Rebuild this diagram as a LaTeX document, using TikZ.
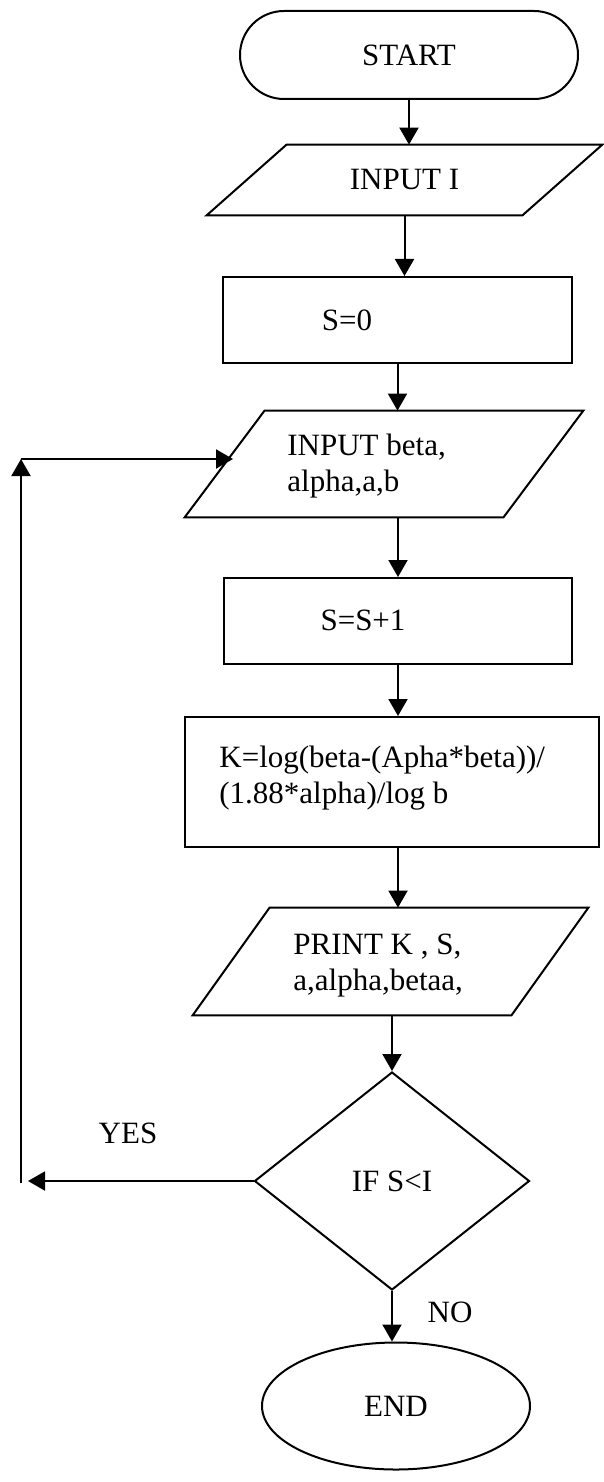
\documentclass[tikz,border=0pt]{standalone}
\usepackage{fontspec}
\setmainfont{Liberation Serif}
\usetikzlibrary{shapes.geometric,arrows.meta,calc}
\begin{document}
\begin{tikzpicture}[x=0.5pt,y=-0.5pt,
  every node/.style={font=\fontsize{15.5}{18}\selectfont},
  line/.style={line width=1pt},
  flow/.style={line width=1pt,-{Triangle[length=8.5pt,width=9.5pt]}},
  box/.style={draw,line width=1pt,inner sep=0pt},
  holder/.style={inner sep=0pt},
  txt/.style={inner sep=0pt,align=left,anchor=west}
]
\fill[white] (0,0) rectangle (604,1482);
\useasboundingbox (0,0) rectangle (604,1482);

% terminal
\node[box,rounded corners=22pt,minimum width=169pt,minimum height=44pt] (start) at (409,55) {START};

% INPUT I
\node[holder,minimum width=157.5pt,minimum height=35pt] (in1) at (404.5,180) {INPUT I};
\draw[line] ($(in1.north west)+(40,0)$) -- ($(in1.north east)+(40,0)$)
  -- ($(in1.south east)+(-40,0)$) -- ($(in1.south west)+(-40,0)$) -- cycle;

% S=0
\node[box,minimum width=174.5pt,minimum height=43pt] (s0) at (397.5,320) {};
\node (s0t) at (347,320) {S=0};

% INPUT beta, alpha, a, b
\node[holder,minimum width=159pt,minimum height=53pt] (inb) at (384,464) {};
\draw[line] ($(inb.north west)+(40,0)$) -- ($(inb.north east)+(40,0)$)
  -- ($(inb.south east)+(-40,0)$) -- ($(inb.south west)+(-40,0)$) -- cycle;
\node[txt] (inbt) at (287,466) {INPUT beta,\\alpha,a,b};

% S=S+1
\node[box,minimum width=174pt,minimum height=43pt] (sps1) at (398,621) {};
\node (sps1t) at (363,620) {S=S+1};

% K formula
\node[box,minimum width=207pt,minimum height=65pt] (k) at (392,782) {};
\node[txt] (kt) at (219,778) {K=log(beta-(Apha*beta))/\\(1.88*alpha)/log b};

% PRINT
\node[holder,minimum width=159pt,minimum height=53.5pt] (pr) at (390.5,961.5) {};
\draw[line] ($(pr.north west)+(38.5,0)$) -- ($(pr.north east)+(38.5,0)$)
  -- ($(pr.south east)+(-38.5,0)$) -- ($(pr.south west)+(-38.5,0)$) -- cycle;
\node[txt] (prt) at (293,966) {PRINT K , S,\\a,alpha,betaa,};

% decision
\node[box,diamond,minimum width=137.5pt,minimum height=109pt] (dec) at (392,1181) {IF S<I};

% end
\node[box,ellipse,minimum width=134pt,minimum height=63.5pt] (end) at (396,1406) {END};

% branch labels
\node (yes) at (128,1133) {YES};
\node (no) at (450,1312) {NO};

% main flow
\draw[flow] (start.south) -- (start.south |- in1.north);
\draw[flow] (in1.south) -- (in1.south |- s0.north);
\draw[flow] (s0.south) -- (s0.south |- inb.north);
\draw[flow] (inb.south -| sps1.north) -- (sps1.north);
\draw[flow] (sps1.south) -- (sps1.south |- k.north);
\draw[flow] (k.south -| sps1.south) -- (pr.north -| sps1.south);
\draw[flow] (pr.south -| dec.north) -- (dec.north);
\draw[flow] (dec.south) -- (dec.south |- end.north);

% loop back
\coordinate (yesend) at (28,1181);
\coordinate (loopbot) at (21,1183);
\coordinate (looptop) at (21,459);
\coordinate (loopin) at (233,459);
\draw[flow] (dec.west) -- (yesend);
\draw[flow] (loopbot) -- (looptop);
\draw[flow] (looptop) -- (loopin);
\end{tikzpicture}
\end{document}
